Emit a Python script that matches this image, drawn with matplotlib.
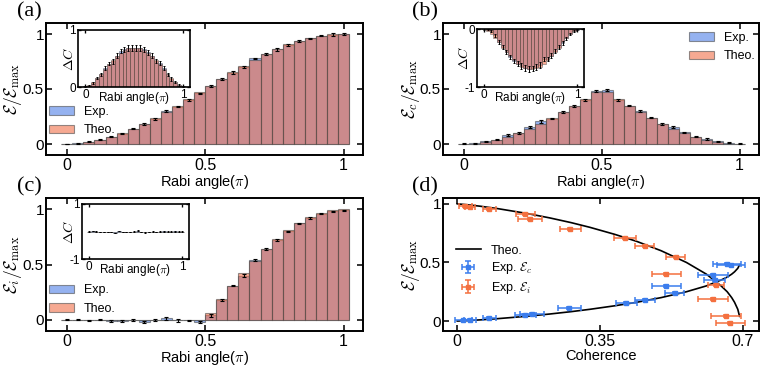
import numpy as np
import matplotlib
matplotlib.use("Agg")
import matplotlib.pyplot as plt

plt.rcParams['font.family'] = ['Liberation Sans', 'DejaVu Sans']
plt.rcParams['mathtext.fontset'] = 'cm'

# ---------------- data ----------------
rabi = [0.00, 0.04, 0.08, 0.12, 0.16, 0.20, 0.24, 0.28, 0.32, 0.36, 0.40, 0.44, 0.48,
        0.52, 0.56, 0.60, 0.64, 0.68, 0.72, 0.76, 0.80, 0.84, 0.88, 0.92, 0.96, 1.00]

# (a) total ergotropy
E_exp = [0.0, 0.005, 0.02, 0.04, 0.065, 0.095, 0.14, 0.18, 0.225, 0.30, 0.34, 0.40, 0.46,
         0.53, 0.59, 0.65, 0.70, 0.78, 0.815, 0.86, 0.90, 0.935, 0.96, 0.985, 0.995, 1.0]
E_theo = [0, 0.004, 0.016, 0.035, 0.062, 0.096, 0.136, 0.181, 0.232, 0.287, 0.346, 0.406, 0.469,
          0.531, 0.594, 0.655, 0.713, 0.768, 0.819, 0.865, 0.905, 0.938, 0.965, 0.984, 0.996, 1.0]
E_err = [0.004, 0.004, 0.005, 0.005, 0.005, 0.005, 0.007, 0.007, 0.007, 0.008, 0.007, 0.01, 0.008,
         0.01, 0.008, 0.012, 0.008, 0.006, 0.01, 0.01, 0.01, 0.006, 0.006, 0.006, 0.012, 0.006]

# (b) coherent ergotropy
Ec_exp = [0.003, 0.005, 0.025, 0.04, 0.08, 0.10, 0.155, 0.205, 0.23, 0.29, 0.345, 0.40, 0.48,
          0.49, 0.40, 0.35, 0.30, 0.24, 0.18, 0.155, 0.105, 0.065, 0.045, 0.025, 0.01, 0.003]
Ec_theo = [0, 0.004, 0.016, 0.035, 0.062, 0.096, 0.136, 0.181, 0.232, 0.287, 0.346, 0.406, 0.469,
           0.469, 0.406, 0.346, 0.287, 0.232, 0.181, 0.136, 0.096, 0.062, 0.035, 0.016, 0.004, 0]
Ec_err = [0.005, 0.004, 0.006, 0.005, 0.01, 0.008, 0.008, 0.012, 0.006, 0.012, 0.01, 0.008, 0.01,
          0.01, 0.006, 0.006, 0.008, 0.008, 0.008, 0.01, 0.006, 0.005, 0.006, 0.005, 0.004, 0.004]

# (c) incoherent ergotropy
Ei_exp = [0, 0, -0.005, 0.003, -0.01, -0.01, 0.0, -0.02, 0.0, 0.015, -0.005, -0.005, -0.02,
          0.04, 0.18, 0.31, 0.40, 0.54, 0.64, 0.72, 0.80, 0.87, 0.92, 0.96, 0.98, 0.99]
Ei_theo = [0, 0, 0, 0, 0, 0, 0, 0, 0, 0, 0, 0, 0,
           0.063, 0.187, 0.309, 0.426, 0.536, 0.637, 0.729, 0.809, 0.876, 0.930, 0.969, 0.992, 1.0]
Ei_err = [0.005, 0.004, 0.006, 0.005, 0.01, 0.008, 0.006, 0.012, 0.006, 0.012, 0.01, 0.008, 0.012,
          0.01, 0.01, 0.008, 0.01, 0.006, 0.006, 0.012, 0.006, 0.005, 0.006, 0.005, 0.004, 0.004]

# insets: change of coherence
dCa_exp = [0.01, 0.02, 0.07, 0.16, 0.22, 0.33, 0.41, 0.45, 0.55, 0.63, 0.66, 0.68, 0.69,
           0.69, 0.68, 0.66, 0.61, 0.55, 0.46, 0.42, 0.33, 0.22, 0.14, 0.09, 0.03, 0.01]
dCa_theo = [0, 0.03, 0.08, 0.15, 0.23, 0.32, 0.40, 0.47, 0.54, 0.60, 0.65, 0.68, 0.69,
            0.69, 0.68, 0.65, 0.60, 0.54, 0.47, 0.40, 0.32, 0.23, 0.15, 0.08, 0.03, 0]
dCa_err = [0.01, 0.01, 0.02, 0.02, 0.03, 0.03, 0.03, 0.04, 0.04, 0.04, 0.05, 0.05, 0.05,
           0.05, 0.05, 0.05, 0.04, 0.04, 0.04, 0.03, 0.03, 0.03, 0.03, 0.02, 0.02, 0.01]

dCb_exp = [0, -0.01, -0.04, -0.11, -0.22, -0.31, -0.40, -0.48, -0.55, -0.60, -0.64, -0.67, -0.69,
           -0.68, -0.66, -0.62, -0.52, -0.52, -0.46, -0.38, -0.31, -0.24, -0.16, -0.09, -0.03, -0.01]
dCb_theo = [0, -0.03, -0.08, -0.15, -0.23, -0.32, -0.40, -0.47, -0.54, -0.60, -0.65, -0.68, -0.69,
            -0.69, -0.68, -0.65, -0.60, -0.54, -0.47, -0.40, -0.32, -0.23, -0.15, -0.08, -0.03, 0]
dCb_err = [0.01, 0.01, 0.02, 0.02, 0.03, 0.03, 0.03, 0.04, 0.04, 0.04, 0.05, 0.05, 0.05,
           0.05, 0.05, 0.05, 0.04, 0.04, 0.04, 0.03, 0.03, 0.03, 0.03, 0.02, 0.02, 0.01]

dCc_exp = [0, 0.02, 0, -0.01, -0.02, -0.02, -0.01, -0.06, 0.02, -0.01, -0.02, -0.01, 0.0,
           0.03, -0.02, -0.03, -0.01, 0.0, -0.01, 0, 0.01, 0, 0, 0.01, 0, 0]
dCc_theo = [0] * 26
dCc_err = [0.01] * 26

# (d) ergotropy vs coherence
coh_theo = [0, 0.026, 0.056, 0.098, 0.168, 0.227, 0.279, 0.325, 0.386, 0.440, 0.500,
            0.562, 0.611, 0.647, 0.662, 0.673, 0.680, 0.688, 0.6923]
Ec_line = [0, 0.004, 0.01, 0.02, 0.04, 0.06, 0.08, 0.10, 0.13, 0.16, 0.20,
           0.25, 0.30, 0.35, 0.375, 0.40, 0.42, 0.45, 0.48]
Ei_line = [1, 0.992, 0.98, 0.96, 0.92, 0.88, 0.84, 0.80, 0.74, 0.68, 0.60,
           0.50, 0.40, 0.30, 0.25, 0.20, 0.16, 0.10, 0.04]

coh_c = [0.015, 0.031, 0.079, 0.167, 0.183, 0.275, 0.415, 0.46, 0.533, 0.513, 0.627, 0.631, 0.661, 0.671]
Ec_pts = [0.005, 0.008, 0.023, 0.05, 0.058, 0.111, 0.154, 0.181, 0.24, 0.297, 0.397, 0.347, 0.491, 0.477]
coh_c_err = [0.02, 0.015, 0.015, 0.025, 0.03, 0.028, 0.026, 0.025, 0.023, 0.036, 0.036, 0.025, 0.035, 0.035]

coh_i = [0.02, 0.031, 0.079, 0.167, 0.179, 0.277, 0.411, 0.46, 0.536, 0.513, 0.635, 0.627, 0.659, 0.670]
Ei_pts = [0.982, 0.976, 0.957, 0.912, 0.869, 0.786, 0.712, 0.641, 0.544, 0.399, 0.306, 0.186, 0.04, -0.017]
coh_i_err = [0.015, 0.013, 0.015, 0.024, 0.03, 0.026, 0.027, 0.023, 0.023, 0.035, 0.02, 0.037, 0.037, 0.035]

# ---------------- style ----------------
BLUE = (79 / 255, 127 / 255, 230 / 255, 0.6)
ORANGE = (240 / 255, 112 / 255, 74 / 255, 0.6)
EDGE = (0.3, 0.3, 0.3, 0.6)
PT_BLUE = '#3b7ded'
PT_ORANGE = '#f4703f'

W, H = 765, 368
fig = plt.figure(figsize=(W / 100, H / 100), dpi=100)


def box(l, r, t, b):
    return [l / W, (H - b) / H, (r - l) / W, (b - t) / H]


def style(ax, lw=1.4, size=11.5, length=4, pad=2):
    for s in ax.spines.values():
        s.set_linewidth(lw)
    ax.tick_params(direction='in', top=True, right=True, length=length, width=lw * 0.8,
                   labelsize=size, pad=pad)


def bars(ax, exp, theo, err, lw=0.8, cap=1.2, elw=0.8):
    ax.bar(rabi, exp, 0.04, facecolor=BLUE, edgecolor=EDGE, linewidth=lw, label='Exp.')
    ax.bar(rabi, theo, 0.04, facecolor=ORANGE, edgecolor=EDGE, linewidth=lw, label='Theo.')
    ax.errorbar(rabi, exp, yerr=err, fmt='none', ecolor='k', elinewidth=elw, capsize=cap,
                capthick=elw)


def ylab(ax, text):
    ax.set_ylabel(text, fontsize=12.5)
    ax.tick_params(axis='y', pad=1.5, labelsize=11)
    ax.yaxis.set_label_coords(-0.068, 0.5)


def main_panel(rect, exp, theo, err, ylabel):
    ax = fig.add_axes(rect)
    bars(ax, exp, theo, err)
    ax.set_xlim(-0.075, 1.07)
    ax.set_ylim(-0.1, 1.1)
    ax.set_xticks([0, 0.5, 1])
    ax.set_xticklabels(['0', '0.5', '1'])
    ax.set_yticks([0, 0.5, 1])
    ax.set_yticklabels(['0', '0.5', '1'])
    ax.set_xlabel(r'Rabi angle($\pi$)', fontsize=10.5, labelpad=0)
    style(ax)
    ylab(ax, ylabel)
    return ax


def inset(rect, exp, theo, err, ylim, yticks):
    ax = fig.add_axes(rect)
    bars(ax, exp, theo, err, lw=0.5, cap=0.8, elw=0.7)
    ax.set_xlim(-0.075, 1.07)
    ax.set_ylim(*ylim)
    ax.set_xticks([0, 1])
    ax.set_xticklabels(['0', '1'])
    ax.set_yticks(yticks)
    ax.set_yticklabels([str(v) for v in yticks])
    ax.set_xlabel(r'Rabi angle($\pi$)', fontsize=8.5, labelpad=-8)
    ax.set_ylabel(r'$\Delta C$', fontsize=10, labelpad=-5)
    style(ax, lw=1.2, size=8.5, length=2.5, pad=1.5)
    return ax


LEG = dict(frameon=False, fontsize=9, borderpad=0, borderaxespad=0, handlelength=2.0,
           handletextpad=0.8, labelspacing=0.5)

# (a)
axa = main_panel(box(46, 363, 23, 155), E_exp, E_theo, E_err, r'$\mathcal{E}/\mathcal{E}_{\max}$')
axa.legend(loc='upper left', bbox_to_anchor=(0.01, 0.37), **LEG)
inset(box(78, 190, 30, 87), dCa_exp, dCa_theo, dCa_err, (0, 1), [0, 1])

# (b)
axb = main_panel(box(443, 759, 23, 155), Ec_exp, Ec_theo, Ec_err, r'$\mathcal{E}_c/\mathcal{E}_{\max}$')
axb.legend(loc='upper right', bbox_to_anchor=(0.99, 0.93), **LEG)
inset(box(477, 584, 29, 87), dCb_exp, dCb_theo, dCb_err, (-1, 0), [-1, 0])

# (c)
axc = main_panel(box(46, 363, 198, 331), Ei_exp, Ei_theo, Ei_err, r'$\mathcal{E}_i/\mathcal{E}_{\max}$')
axc.legend(loc='upper left', bbox_to_anchor=(0.01, 0.35), **LEG)
inset(box(82, 189, 204, 259), dCc_exp, dCc_theo, dCc_err, (-1, 1), [-1, 1])

# (d)
axd = fig.add_axes(box(443, 759, 198, 331))
axd.plot(coh_theo, Ei_line, color='k', lw=1.2, label='Theo.')
axd.plot(coh_theo, Ec_line, color='k', lw=1.2)
axd.errorbar(coh_c, Ec_pts, xerr=coh_c_err, yerr=0.008, fmt='s', ms=3.5, color=PT_BLUE,
             ecolor=PT_BLUE, elinewidth=1.1, capsize=2.5, capthick=1.1, label=r'Exp. $\mathcal{E}_c$')
axd.errorbar(coh_i, Ei_pts, xerr=coh_i_err, yerr=0.008, fmt='s', ms=3.5, color=PT_ORANGE,
             ecolor=PT_ORANGE, elinewidth=1.1, capsize=2.5, capthick=1.1, label=r'Exp. $\mathcal{E}_i$')
axd.set_xlim(-0.035, 0.74)
axd.set_ylim(-0.085, 1.05)
axd.set_xticks([0, 0.35, 0.7])
axd.set_xticklabels(['0', '0.35', '0.7'])
axd.set_yticks([0, 0.5, 1])
axd.set_yticklabels(['0', '0.5', '1'])
axd.set_xlabel('Coherence', fontsize=10.5, labelpad=0)
style(axd)
ylab(axd, r'$\mathcal{E}/\mathcal{E}_{\max}$')
leg_d = dict(LEG)
leg_d['labelspacing'] = 0.3
axd.legend(loc='upper left', bbox_to_anchor=(0.04, 0.65), **leg_d)

# panel labels
for lab, x, y in [('(a)', 17, 12), ('(b)', 412, 12), ('(c)', 17, 187), ('(d)', 412, 187)]:
    fig.text(x / W, 1 - y / H, lab, fontsize=16, family='Liberation Serif', va='center', ha='left')

fig.savefig('out.png', dpi=100)
